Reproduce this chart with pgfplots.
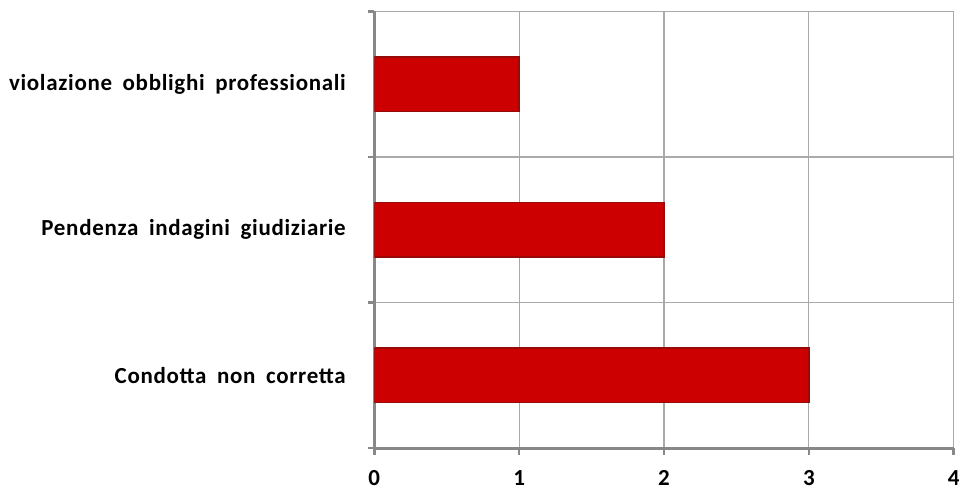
\documentclass[border={3.5pt 3.5pt 0pt 7.5pt}]{standalone}
\usepackage{pgfplots}
\pgfplotsset{compat=1.18}
\usepackage{fontspec}
\setmainfont{Carlito}[LetterSpace=3, WordSpace=1.8]
\definecolor{barred}{RGB}{204,0,0}
\definecolor{bardark}{RGB}{150,10,10}
\definecolor{axgray}{RGB}{136,136,136}
\definecolor{gridgray}{RGB}{170,170,170}
\begin{document}
\begin{tikzpicture}
\begin{axis}[
  xbar,
  width=436.5pt, height=329pt, scale only axis,
  xmin=0, xmax=4, ymin=0.5, ymax=3.5,
  xtick={0,1,2,3,4},
  ytick={1,2,3},
  yticklabels={Condotta non corretta, Pendenza indagini giudiziarie, violazione obblighi professionali},
  minor ytick={0.5,1.5,2.5,3.5},
  major y tick style={draw=none},
  minor y tick style={axgray, line width=2pt},
  minor tick length=5pt,
  x tick style={axgray, line width=2pt},
  major tick length=5pt,
  tick align=outside,
  xmajorgrids, yminorgrids,
  grid style={gridgray, line width=0.8pt},
  axis x line*=bottom, axis y line*=left,
  axis line style={axgray, line width=2.2pt},
  bar width=41pt,
  /pgf/number format/assume math mode=true,
  tick label style={font=\fontsize{17.3}{20}\selectfont\bfseries},
  xticklabel style={yshift=-8pt},
  yticklabel style={xshift=-13pt},
]
\addplot[fill=barred, draw=bardark, line width=1pt] coordinates {(3,1) (2,2) (1,3)};
\end{axis}
\end{tikzpicture}
\end{document}
